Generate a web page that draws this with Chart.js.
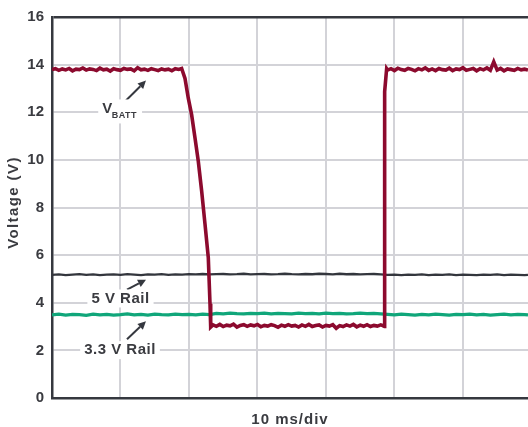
<!DOCTYPE html>
<html><head><meta charset="utf-8">
<script src="https://cdn.jsdelivr.net/npm/chart.js@4.4.0/dist/chart.umd.min.js"></script>
<style>html,body{margin:0;padding:0;background:#fff;}#wrap{width:528px;height:427px;}</style>
</head><body><div id="wrap"><canvas id="c" width="528" height="427"></canvas></div>
<script>
// ---- data (time in ms, voltage in V) ----
const yTickValues = [0, 2, 4, 6, 8, 10, 12, 14, 16];
const xDivisions = [0, 10, 20, 30, 40, 50, 60];
const xTitle = '10 ms/div';
const yTitle = 'Voltage (V)';

const vbattT = [
  0, 0.5, 1, 1.5, 2, 2.5, 3, 3.5, 4, 4.5,
  5, 5.5, 6, 6.5, 7, 7.5, 8, 8.5, 9, 9.5,
  10, 10.5, 11, 11.5, 12, 12.5, 13, 13.5, 14, 14.5,
  15, 15.5, 16, 16.5, 17, 17.5, 18, 18.5,
  18.93, 19.42, 19.9, 20.39, 20.88, 21.36, 21.85, 22.34, 22.82, 23.07, 23.17,
  23.5, 24, 24.5, 25, 25.5, 26, 26.5, 27, 27.5, 28,
  28.5, 29, 29.5, 30, 30.5, 31, 31.5, 32, 32.5, 33,
  33.5, 34, 34.5, 35, 35.5, 36, 36.5, 37, 37.5, 38,
  38.5, 39, 39.5, 40, 40.5, 41, 41.5, 42, 42.5, 43,
  43.5, 44, 44.5, 45, 45.5, 46, 46.5, 47, 47.5, 48,
  48.3, 48.55, 48.57, 48.86,
  49, 49.5, 50, 50.5, 51, 51.5, 52, 52.5, 53, 53.5,
  54, 54.5, 55, 55.5, 56, 56.5, 57, 57.5, 58, 58.5,
  59, 59.5, 60, 60.5, 61, 61.5, 62, 62.5, 63, 63.5,
  64, 64.5, 65, 65.5, 66, 66.5, 67, 67.5, 68, 68.5,
  69, 69.5
];
const vbattV = [
  13.79, 13.83, 13.76, 13.82, 13.78, 13.84, 13.74, 13.81, 13.79, 13.86,
  13.77, 13.82, 13.80, 13.75, 13.85, 13.78, 13.81, 13.73, 13.83, 13.79,
  13.76, 13.84, 13.80, 13.82, 13.74, 13.87, 13.78, 13.81, 13.76, 13.83,
  13.79, 13.75, 13.82, 13.78, 13.81, 13.74, 13.83, 13.80,
  13.84, 13.42, 12.59, 11.89, 10.92, 9.94, 8.69, 7.30, 5.90, 3.96, 2.98,
  3.07, 3.01, 3.09, 3.00, 3.06, 3.03, 3.10, 2.98, 3.05, 3.08,
  3.01, 3.07, 3.03, 3.09, 2.99, 3.05, 3.02, 3.08, 3.04, 2.97,
  3.06, 3.01, 3.08, 3.02, 3.05, 2.98, 3.07, 3.01, 3.09, 3.00,
  3.04, 3.07, 2.98, 3.05, 3.02, 3.08, 2.93, 3.04, 3.00, 3.07,
  3.02, 3.09, 2.99, 3.06, 3.01, 3.08, 3.00, 3.05, 3.02, 3.07,
  3.04, 3.00, 12.87, 13.83,
  13.77, 13.83, 13.75, 13.85, 13.79, 13.76, 13.84, 13.80, 13.74, 13.83,
  13.78, 13.86, 13.76, 13.82, 13.75, 13.84, 13.79, 13.77, 13.85, 13.75,
  13.82, 13.79, 13.87, 13.76, 13.80, 13.84, 13.74, 13.83, 13.78, 13.86,
  13.76, 14.12, 13.77, 13.84, 13.74, 13.82, 13.79, 13.76, 13.84, 13.78,
  13.81, 13.77
];

const railT = [
  0, 1, 2, 3, 4, 5, 6, 7, 8, 9,
  10, 11, 12, 13, 14, 15, 16, 17, 18, 19,
  20, 21, 22, 23, 24, 25, 26, 27, 28, 29,
  30, 31, 32, 33, 34, 35, 36, 37, 38, 39,
  40, 41, 42, 43, 44, 45, 46, 47, 48, 49,
  50, 51, 52, 53, 54, 55, 56, 57, 58, 59,
  60, 61, 62, 63, 64, 65, 66, 67, 68, 69,
  69.5
];
const rail5V = [
  5.17, 5.19, 5.16, 5.18, 5.20, 5.17, 5.19, 5.16, 5.18, 5.19,
  5.17, 5.20, 5.18, 5.16, 5.19, 5.18, 5.20, 5.17, 5.19, 5.18,
  5.20, 5.19, 5.21, 5.19, 5.20, 5.21, 5.19, 5.20, 5.22, 5.19,
  5.20, 5.21, 5.19, 5.20, 5.22, 5.20, 5.19, 5.21, 5.20, 5.22,
  5.21, 5.19, 5.22, 5.20, 5.21, 5.19, 5.20, 5.21, 5.19, 5.17,
  5.18, 5.16, 5.18, 5.17, 5.19, 5.16, 5.18, 5.17, 5.19, 5.16,
  5.18, 5.17, 5.16, 5.18, 5.17, 5.19, 5.16, 5.18, 5.17, 5.16,
  5.17
];
const rail33V = [
  3.49, 3.52, 3.48, 3.51, 3.50, 3.47, 3.52, 3.49, 3.51, 3.48,
  3.50, 3.53, 3.49, 3.51, 3.48, 3.52, 3.50, 3.49, 3.52, 3.50,
  3.51, 3.49, 3.52, 3.50, 3.55, 3.53, 3.56, 3.54, 3.53, 3.55,
  3.54, 3.56, 3.53, 3.55, 3.54, 3.53, 3.56, 3.54, 3.55, 3.53,
  3.56, 3.54, 3.55, 3.53, 3.54, 3.56, 3.54, 3.55, 3.53, 3.51,
  3.49, 3.52, 3.50, 3.48, 3.51, 3.49, 3.52, 3.50, 3.48, 3.51,
  3.50, 3.52, 3.49, 3.51, 3.48, 3.50, 3.52, 3.49, 3.51, 3.50,
  3.49
];

// ---- annotations (anchors in data units) ----
const notes = [
  { main: 'V', sub: 'BATT', x: 9.95, y: 12.16 },
  { main: '5 V Rail', x: 10.0, y: 4.18 },
  { main: '3.3 V Rail', x: 9.93, y: 2.01 }
];
const arrows = [
  { x1: 10.8, y1: 12.49, x2: 13.72, y2: 13.33 },
  { x1: 10.95, y1: 4.55, x2: 13.72, y2: 4.97 },
  { x1: 10.95, y1: 2.47, x2: 13.72, y2: 3.22 }
];

const DARK = '#35383f';
const GRID = '#d3d3d8';
const TEXT = '#3a3b40';
const FONT = "'Liberation Sans', Arial, Helvetica, sans-serif";

const toXY = (ts, vs) => ts.map((t, i) => ({ x: t, y: vs[i] }));

// wider tracking for the axis titles, as in the reference
const titleSpacing = {
  id: 'titleSpacing',
  afterLayout(chart) {
    ['x', 'y'].forEach(k => {
      const s = chart.scales[k];
      if (s && !s._spaced) {
        const orig = s.drawTitle;
        s.drawTitle = function () {
          const ctx = this.ctx;
          ctx.save();
          try { ctx.letterSpacing = k === 'y' ? '1.4px' : '1px'; } catch (e) {}
          if (k === 'y') ctx.translate(0, -5);
          else ctx.translate(0, 2);
          orig.apply(this, arguments);
          ctx.restore();
        };
        s._spaced = true;
      }
    });
  }
};

const notesPlugin = {
  id: 'notes',
  afterDatasetsDraw(chart) {
    const { ctx, scales: { x, y } } = chart;
    ctx.save();
    ctx.strokeStyle = DARK;
    ctx.fillStyle = DARK;
    ctx.lineWidth = 2;
    arrows.forEach(a => {
      const x1 = x.getPixelForValue(a.x1), y1 = y.getPixelForValue(a.y1);
      const x2 = x.getPixelForValue(a.x2), y2 = y.getPixelForValue(a.y2);
      const ang = Math.atan2(y2 - y1, x2 - x1);
      const hl = 8, hw = 4;
      const bx = x2 - hl * Math.cos(ang), by = y2 - hl * Math.sin(ang);
      ctx.beginPath(); ctx.moveTo(x1, y1); ctx.lineTo(bx, by); ctx.stroke();
      ctx.beginPath();
      ctx.moveTo(x2, y2);
      ctx.lineTo(bx + hw * Math.sin(ang), by - hw * Math.cos(ang));
      ctx.lineTo(bx - hw * Math.sin(ang), by + hw * Math.cos(ang));
      ctx.closePath(); ctx.fill();
    });
    ctx.textBaseline = 'middle';
    notes.forEach(n => {
      const cx = x.getPixelForValue(n.x), cy = y.getPixelForValue(n.y);
      ctx.font = 'bold 15px ' + FONT;
      try { ctx.letterSpacing = '0.5px'; } catch (e) {}
      const wMain = ctx.measureText(n.main).width;
      let wSub = 0;
      if (n.sub) { ctx.font = 'bold 9px ' + FONT; wSub = ctx.measureText(n.sub).width; }
      const w = wMain + wSub;
      const left = cx - w / 2;
      ctx.fillStyle = '#ffffff';
      ctx.fillRect(left - 4, cy - 9, w + 8, n.sub ? 24 : 18);
      ctx.fillStyle = TEXT;
      ctx.textAlign = 'left';
      ctx.font = 'bold 15px ' + FONT;
      ctx.fillText(n.main, left, cy);
      if (n.sub) {
        ctx.font = 'bold 9px ' + FONT;
        ctx.fillText(n.sub, left + wMain - 1, cy + 7);
      }
    });
    ctx.restore();
  }
};

new Chart(document.getElementById('c'), {
  type: 'line',
  data: {
    datasets: [
      { label: 'VBATT', data: toXY(vbattT, vbattV), borderColor: '#8c0a2e', borderWidth: 3.6, pointRadius: 0, tension: 0, borderJoinStyle: 'miter' },
      { label: '5 V Rail', data: toXY(railT, rail5V), borderColor: '#33363d', borderWidth: 2.4, pointRadius: 0, tension: 0 },
      { label: '3.3 V Rail', data: toXY(railT, rail33V), borderColor: '#10a67a', borderWidth: 3.2, pointRadius: 0, tension: 0 }
    ]
  },
  options: {
    responsive: false,
    animation: false,
    events: [],
    layout: { padding: { top: 15, right: 0, left: 0, bottom: 0 } },
    plugins: { legend: { display: false }, tooltip: { enabled: false } },
    scales: {
      x: {
        type: 'linear', min: 0, max: 69.5,
        afterBuildTicks: s => { s.ticks = xDivisions.map(v => ({ value: v })); },
        afterFit: s => { s.height = 29; },
        ticks: { display: false },
        grid: {
          drawTicks: false,
          lineWidth: 2,
          color: c => (c.tick && c.tick.value === 0) ? 'rgba(0,0,0,0)' : GRID
        },
        border: { display: true, color: DARK, width: 2.5 },
        title: { display: true, text: xTitle, color: TEXT, font: { family: FONT, size: 15, weight: 'bold' }, padding: { top: 0, bottom: 0 } }
      },
      y: {
        min: 0, max: 16,
        afterBuildTicks: s => { s.ticks = yTickValues.map(v => ({ value: v })); },
        afterFit: s => { s.width = 52; },
        ticks: { color: TEXT, padding: 8, font: { family: FONT, size: 15, weight: 'bold' } },
        grid: {
          drawTicks: false,
          lineWidth: c => (c.tick && c.tick.value === 16) ? 2.5 : 2,
          color: c => (c.tick && c.tick.value === 16) ? DARK : (c.tick && c.tick.value === 0 ? 'rgba(0,0,0,0)' : GRID)
        },
        border: { display: true, color: DARK, width: 2.5 },
        title: { display: true, text: yTitle, color: TEXT, font: { family: FONT, size: 15, weight: 'bold' }, padding: { top: 5, bottom: 0 } }
      }
    }
  },
  plugins: [titleSpacing, notesPlugin]
});
</script>
</body></html>
